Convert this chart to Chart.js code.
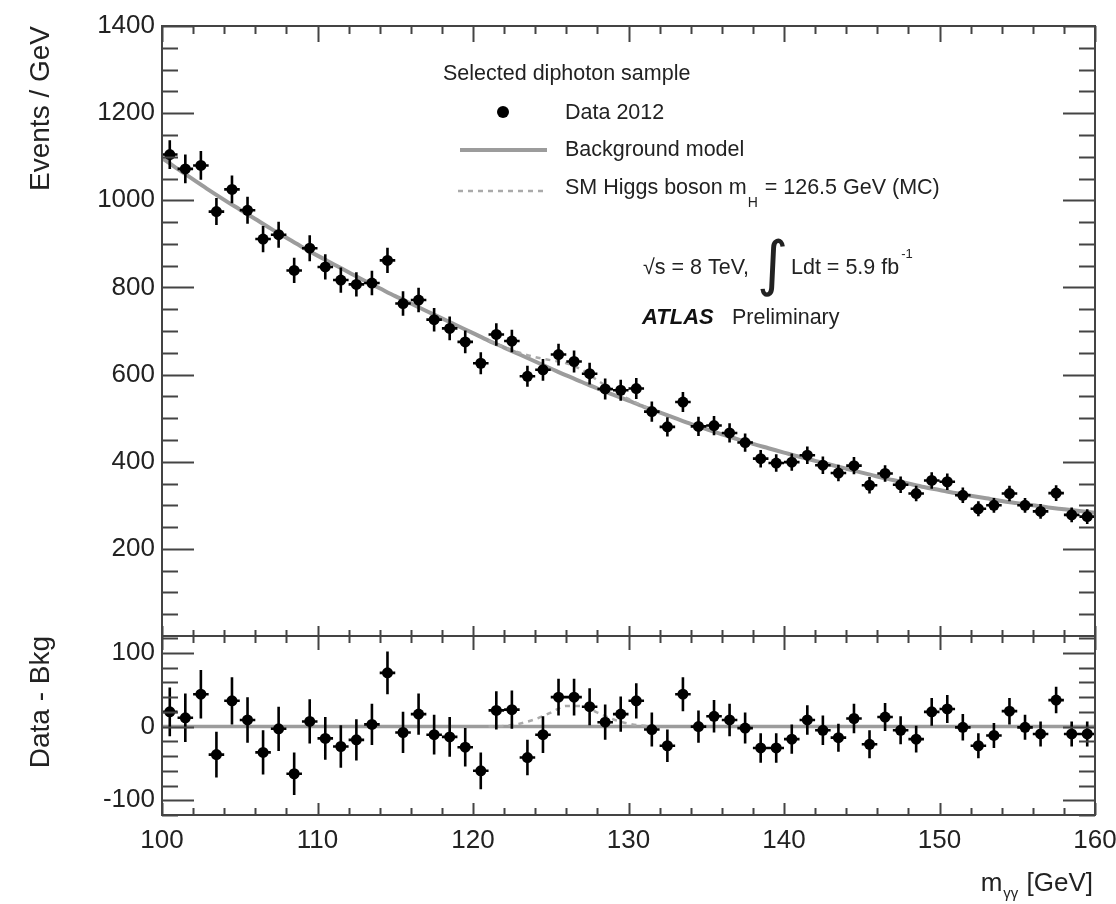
<!DOCTYPE html>
<html><head><meta charset="utf-8">
<script src="https://cdn.jsdelivr.net/npm/chart.js@4.4.1/dist/chart.umd.min.js"></script>
<style>
html,body{margin:0;padding:0;background:#fff;}
#wrap{position:relative;width:1116px;height:904px;overflow:hidden;background:#fff;}
canvas{position:absolute;left:0;top:0;}
</style></head><body>
<div id="wrap"><canvas id="top" width="1116" height="904"></canvas><canvas id="bot" width="1116" height="904"></canvas></div>
<script>
// ---- data ----
const massBins = [100.5,101.5,102.5,103.5,104.5,105.5,106.5,107.5,108.5,109.5,
  110.5,111.5,112.5,113.5,114.5,115.5,116.5,117.5,118.5,119.5,
  120.5,121.5,122.5,123.5,124.5,125.5,126.5,127.5,128.5,129.5,
  130.5,131.5,132.5,133.5,134.5,135.5,136.5,137.5,138.5,139.5,
  140.5,141.5,142.5,143.5,144.5,145.5,146.5,147.5,148.5,149.5,
  150.5,151.5,152.5,153.5,154.5,155.5,156.5,157.5,158.5,159.5];
const events = [1105,1072,1080,974,1025,977,911,921,839,890,
  847,817,807,810,862,763,771,726,706,675,
  626,692,677,596,611,646,630,602,567,564,
  568,515,480,537,481,483,466,444,407,397,
  399,415,392,374,391,346,373,347,327,357,
  354,323,292,300,327,300,286,328,278,274];
const eventErrors = [33,33,33,31,32,31,30,30,29,30,
  29,29,28,28,29,28,28,27,27,26,
  25,26,26,24,25,25,25,25,24,24,
  24,23,22,23,22,22,22,21,20,20,
  20,20,20,19,20,19,19,19,18,19,
  19,18,17,17,18,17,17,18,17,17];
const residuals = [20,12,44,-38,35,9,-35,-3,-64,7,
  -16,-27,-18,3,73,-8,17,-11,-14,-28,
  -60,22,23,-42,-11,40,40,27,6,17,
  35,-4,-26,44,0,14,9,-2,-29,-29,
  -17,9,-5,-15,11,-24,13,-5,-17,20,
  24,-1,-26,-12,21,-1,-10,36,-10,-10];
const bkgMass = [100,101,102,103,104,105,106,107,108,109,110,111,112,113,114,115,116,117,118,119,
  120,121,122,123,124,125,126,127,128,129,130,131,132,133,134,135,136,137,138,139,
  140,141,142,143,144,145,146,147,148,149,150,151,152,153,154,155,156,157,158,159,160];
const bkgModel = [1097,1072,1048,1024,1001,979,957,935,914,893,873,854,835,816,798,780,763,746,729,712,
  695,678,662,646,630,614,598,583,568,554,540,526,513,500,487,475,463,452,441,431,
  421,411,402,393,384,375,366,358,350,342,335,328,322,316,310,305,300,295,291,287,283];
const higgsMass = [121,122,123,124,125,126,127,128,129,130,131,132];
const higgsSignal = [0,1,4,10,19,28,28,19,10,4,1,0];
const upperTicks = [200,400,600,800,1000,1200,1400];
const lowerTicks = [-100,0,100];
const xTicks = [100,110,120,130,140,150,160];

// ---- minor tick positions (styling) ----
const upperMinor = []; for (let v = 50; v < 1400; v += 50) if (v % 200 !== 0) upperMinor.push(v);
const lowerMinor = []; for (let v = -120; v <= 120; v += 20) if (v % 100 !== 0) lowerMinor.push(v);
const xMinor = []; for (let v = 102; v < 160; v += 2) if (v % 10 !== 0) xMinor.push(v);

const FONT = "'Liberation Sans', Arial, Helvetica, sans-serif";
const TXT = '#222';
const LINE_GRAY = '#9c9c9c';

function makeErrorBars(vals) {
  return {
    id: 'errorBars',
    afterDatasetsDraw(chart) {
      const {ctx, chartArea: a, scales: {x, y}} = chart;
      ctx.save();
      ctx.beginPath(); ctx.rect(a.left, a.top, a.right - a.left, a.bottom - a.top); ctx.clip();
      ctx.strokeStyle = '#000'; ctx.lineWidth = 2.6;
      ctx.beginPath();
      vals.forEach((v, i) => {
        const m = massBins[i], e = eventErrors[i];
        const px = x.getPixelForValue(m), py = y.getPixelForValue(v);
        ctx.moveTo(px, y.getPixelForValue(v - e)); ctx.lineTo(px, y.getPixelForValue(v + e));
        ctx.moveTo(x.getPixelForValue(m - 0.5), py); ctx.lineTo(x.getPixelForValue(m + 0.5), py);
      });
      ctx.stroke();
      ctx.restore();
    }
  };
}

function makeFrame(cfg) {
  return {
    id: 'frame',
    afterDraw(chart) {
      const {ctx, chartArea: a, scales: {x, y}} = chart;
      ctx.save();
      ctx.strokeStyle = '#444'; ctx.lineWidth = 2;
      ctx.beginPath();
      const yt = (vals, len) => vals.forEach(v => {
        const p = Math.round(y.getPixelForValue(v)) + 0.5;
        ctx.moveTo(a.left, p); ctx.lineTo(a.left + len, p);
        ctx.moveTo(a.right, p); ctx.lineTo(a.right - len, p);
      });
      yt(cfg.yMajor, 32); yt(cfg.yMinor, 16);
      const xt = (vals, lt, lb) => vals.forEach(v => {
        const p = Math.round(x.getPixelForValue(v)) + 0.5;
        if (lt) { ctx.moveTo(p, a.top); ctx.lineTo(p, a.top + lt); }
        if (lb) { ctx.moveTo(p, a.bottom); ctx.lineTo(p, a.bottom - lb); }
      });
      xt(xTicks, cfg.topMaj, cfg.botMaj); xt(xMinor, cfg.topMin, cfg.botMin);
      ctx.stroke();
      ctx.strokeRect(a.left, a.top, a.right - a.left, a.bottom - a.top);
      ctx.restore();
    }
  };
}

const upperText = {
  id: 'upperText',
  afterDraw(chart) {
    const ctx = chart.ctx;
    ctx.save();
    ctx.fillStyle = TXT; ctx.textBaseline = 'middle'; ctx.textAlign = 'left';
    ctx.font = `21.5px ${FONT}`;
    ctx.fillText('Selected diphoton sample', 443, 74);
    // Data entry
    ctx.fillStyle = '#000';
    ctx.beginPath(); ctx.arc(503, 112, 6, 0, Math.PI * 2); ctx.fill();
    ctx.fillStyle = TXT;
    ctx.fillText('Data 2012', 565, 113);
    // Background entry
    ctx.strokeStyle = LINE_GRAY; ctx.lineWidth = 4;
    ctx.beginPath(); ctx.moveTo(460, 150); ctx.lineTo(547, 150); ctx.stroke();
    ctx.fillText('Background model', 565, 150);
    // Higgs entry
    ctx.strokeStyle = '#aaa'; ctx.lineWidth = 2.5; ctx.setLineDash([5, 5]);
    ctx.beginPath(); ctx.moveTo(458, 191); ctx.lineTo(548, 191); ctx.stroke();
    ctx.setLineDash([]);
    let s1 = 'SM Higgs boson m';
    ctx.fillText(s1, 565, 188);
    let xx = 565 + ctx.measureText(s1).width;
    ctx.font = `14px ${FONT}`;
    ctx.fillText('H', xx + 1, 203);
    xx += ctx.measureText('H').width + 2;
    ctx.font = `21.5px ${FONT}`;
    ctx.fillText(' = 126.5 GeV (MC)', xx, 188);
    // sqrt(s) line
    ctx.fillText('\u221As = 8 TeV,', 643, 268);
    ctx.font = `60px 'DejaVu Sans', ${FONT}`;
    ctx.fillText('\u222B', 757, 268);
    ctx.font = `21.5px ${FONT}`;
    ctx.fillText('Ldt = 5.9 fb', 791, 268);
    xx = 791 + ctx.measureText('Ldt = 5.9 fb').width;
    ctx.font = `13px ${FONT}`;
    ctx.fillText('-1', xx + 2, 254);
    // ATLAS Preliminary
    ctx.font = `italic bold 22px ${FONT}`;
    ctx.fillStyle = '#111';
    ctx.fillText('ATLAS', 642, 318);
    ctx.font = `21.5px ${FONT}`;
    ctx.fillStyle = TXT;
    ctx.fillText('Preliminary', 732, 318);
    ctx.restore();
  }
};

const lowerText = {
  id: 'lowerText',
  afterDraw(chart) {
    const ctx = chart.ctx;
    ctx.save();
    ctx.fillStyle = TXT; ctx.textBaseline = 'middle'; ctx.textAlign = 'left';
    const big = `26px ${FONT}`, small = `15px ${FONT}`;
    ctx.font = big; const w1 = ctx.measureText('m').width; const w3 = ctx.measureText(' [GeV]').width;
    ctx.font = small; const w2 = ctx.measureText('\u03B3\u03B3').width;
    let x0 = 1093 - (w1 + w2 + w3 + 2);
    ctx.font = big; ctx.fillText('m', x0, 884);
    ctx.font = small; ctx.fillText('\u03B3\u03B3', x0 + w1 + 1, 894);
    ctx.font = big; ctx.fillText(' [GeV]', x0 + w1 + w2 + 2, 884);
    ctx.restore();
  }
};

const pts = (xs, ys) => xs.map((m, i) => ({x: m, y: ys[i]}));

// ---- upper panel ----
new Chart(document.getElementById('top'), {
  type: 'scatter',
  data: {
    datasets: [
      {label: 'Data 2012', data: pts(massBins, events), pointRadius: 5.5, pointHoverRadius: 5.5,
        backgroundColor: '#000', borderWidth: 0, pointStyle: 'circle'},
      {label: 'SM Higgs', type: 'line', data: pts(higgsMass, higgsMass.map((m, i) => bkgModel[bkgMass.indexOf(m)] + higgsSignal[i])),
        borderColor: '#aaa', borderWidth: 2.5, borderDash: [5, 5], pointRadius: 0, fill: false, cubicInterpolationMode: 'monotone'},
      {label: 'Background model', type: 'line', data: pts(bkgMass, bkgModel),
        borderColor: LINE_GRAY, borderWidth: 4, pointRadius: 0, fill: false, cubicInterpolationMode: 'monotone'}
    ]
  },
  options: {
    responsive: false, animation: false, events: [],
    layout: {padding: {top: 26, right: 21, bottom: 268, left: 0}},
    plugins: {legend: {display: false}, tooltip: {enabled: false}},
    scales: {
      x: {type: 'linear', min: 100, max: 160, display: false},
      y: {type: 'linear', min: 0, max: 1400,
        afterBuildTicks: s => { s.ticks = upperTicks.map(v => ({value: v})); },
        afterFit: s => { s.width = 162; s.paddingTop = 0; s.paddingBottom = 0; },
        grid: {display: false, drawTicks: false}, border: {display: false},
        ticks: {autoSkip: false, padding: 7, color: TXT, font: {family: FONT, size: 26}, callback: v => String(v)},
        title: {display: true, text: 'Events / GeV', align: 'end', color: TXT,
          font: {family: FONT, size: 28}, padding: {top: 24, bottom: 0}}
      }
    }
  },
  plugins: [makeErrorBars(events), makeFrame({yMajor: upperTicks, yMinor: upperMinor, topMaj: 16, topMin: 8, botMaj: 10, botMin: 6}), upperText]
});

// ---- lower panel ----
new Chart(document.getElementById('bot'), {
  type: 'scatter',
  data: {
    datasets: [
      {label: 'Data - Bkg', data: pts(massBins, residuals), pointRadius: 5.5, pointHoverRadius: 5.5,
        backgroundColor: '#000', borderWidth: 0, pointStyle: 'circle'},
      {label: 'SM Higgs', type: 'line', data: pts(higgsMass, higgsSignal),
        borderColor: '#aaa', borderWidth: 2.5, borderDash: [5, 5], pointRadius: 0, fill: false, cubicInterpolationMode: 'monotone'},
      {label: 'Background model', type: 'line', data: pts([bkgMass[0], bkgMass[bkgMass.length - 1]], [0, 0]),
        borderColor: LINE_GRAY, borderWidth: 3.5, pointRadius: 0, fill: false}
    ]
  },
  options: {
    responsive: false, animation: false, events: [],
    layout: {padding: {top: 636, right: 21, bottom: 0, left: 0}},
    plugins: {legend: {display: false}, tooltip: {enabled: false}},
    scales: {
      x: {type: 'linear', min: 100, max: 160,
        afterBuildTicks: s => { s.ticks = xTicks.map(v => ({value: v})); },
        afterFit: s => { s.height = 89; s.paddingLeft = 0; s.paddingRight = 0; },
        grid: {display: false, drawTicks: false}, border: {display: false},
        ticks: {autoSkip: false, maxRotation: 0, padding: 10, color: TXT, font: {family: FONT, size: 26}, callback: v => String(v)}
      },
      y: {type: 'linear', min: -120, max: 123,
        afterBuildTicks: s => { s.ticks = lowerTicks.map(v => ({value: v})); },
        afterFit: s => { s.width = 162; s.paddingTop = 0; s.paddingBottom = 0; },
        grid: {display: false, drawTicks: false}, border: {display: false},
        ticks: {autoSkip: false, padding: 7, color: TXT, font: {family: FONT, size: 26}, callback: v => String(v)},
        title: {display: true, text: 'Data - Bkg', align: 'end', color: TXT,
          font: {family: FONT, size: 28}, padding: {top: 24, bottom: 0}}
      }
    }
  },
  plugins: [makeErrorBars(residuals), makeFrame({yMajor: lowerTicks, yMinor: lowerMinor, topMaj: 14, topMin: 7, botMaj: 12, botMin: 7}), lowerText]
});
</script>
</body></html>
